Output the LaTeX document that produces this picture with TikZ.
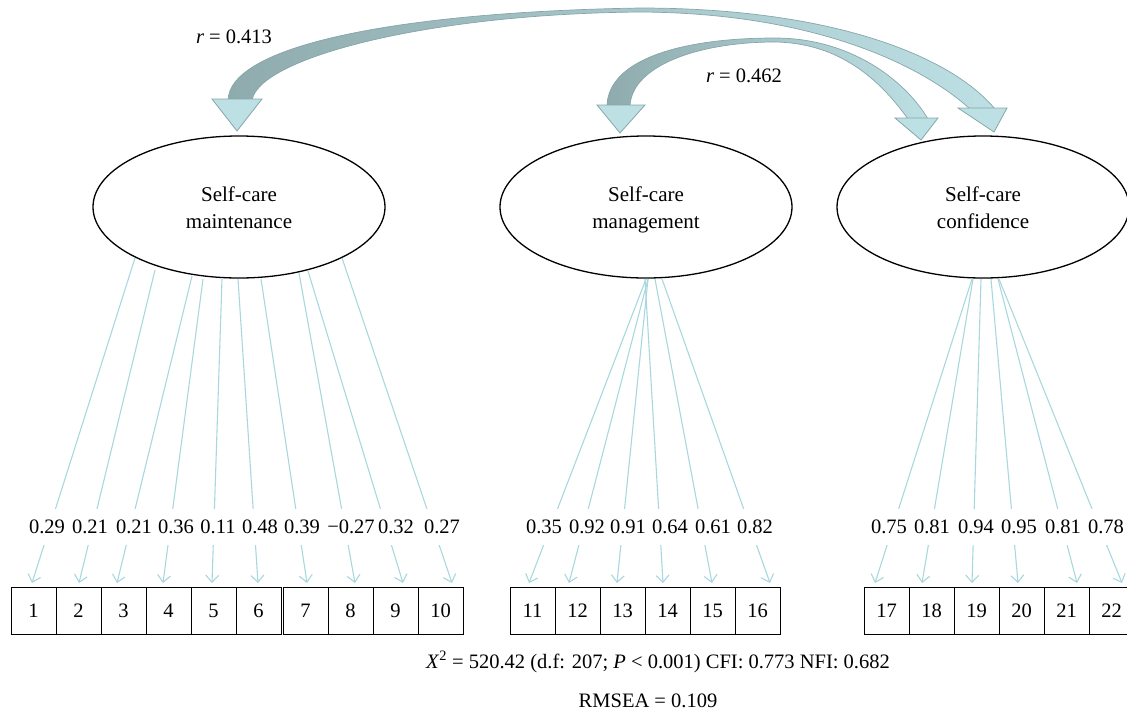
\documentclass[tikz,border=0pt]{standalone}
\usepackage{fontspec}
\setmainfont{Liberation Serif}
\usetikzlibrary{shapes.geometric,arrows.meta}
\definecolor{indc}{HTML}{A8D8DE}
\definecolor{rdark}{HTML}{8FABAE}
\definecolor{rlight}{HTML}{BDE0E4}
\definecolor{redge}{HTML}{86A6A9}
\definecolor{rhead}{HTML}{BDE0E4}
\begin{document}
\begin{tikzpicture}[x=1pt,y=-1pt,
  lat/.style={ellipse,draw,line width=1.3pt,minimum width=292pt,minimum height=142pt,inner sep=0pt},
  lattext/.style={inner sep=0pt,align=center,font=\fontsize{21}{27}\selectfont},
  item/.style={draw,line width=0.9pt,minimum width=45pt,minimum height=47pt,inner sep=0pt,font=\fontsize{20.5}{24}\selectfont},
  load/.style={fill=white,inner xsep=1pt,inner ysep=0pt,minimum height=36pt,font=\fontsize{20.5}{24}\selectfont},
  indline/.style={draw=indc,line width=1.1pt,-{Straight Barb[length=7pt,width=13pt]}},
  txt/.style={inner sep=0pt,font=\fontsize{20.5}{24}\selectfont},
  ribbon/.style={left color=rdark,right color=rlight,draw=redge,line width=0.7pt},
  headshape/.style={fill=rhead,draw=redge,line width=0.8pt,line join=miter}]
\useasboundingbox (0,0) rectangle (1127,713);

% latent variables
\node[lat] (e1) at (239,207) {};
\node[lat] (e2) at (646,207) {};
\node[lat] (e3) at (983,207) {};
\node[lattext] (e1t) at ([yshift=-3pt]e1.center) {Self-care\strut\\maintenance\strut};
\node[lattext] (e2t) at ([yshift=-3pt]e2.center) {Self-care\strut\\management\strut};
\node[lattext] (e3t) at ([yshift=-3pt]e3.center) {Self-care\strut\\confidence\strut};

% correlation ribbons
\shadedraw[ribbon] (228,101) .. controls (228,45) and (400,12) .. (640,8)
   .. controls (830,8) and (950,55) .. (995,109)
   -- (970,109) .. controls (925,68) and (820,13) .. (640,12)
   .. controls (420,14) and (256,60) .. (252,101) -- cycle;
\shadedraw[ribbon] (607,106) .. controls (608,60) and (680,38) .. (775,38)
   .. controls (850,38) and (905,80) .. (928,119)
   -- (908,119) .. controls (880,80) and (840,43) .. (775,42)
   .. controls (700,42) and (632,65) .. (630,106) -- cycle;
\filldraw[headshape] (212,99) -- (262,99) -- (237,131) -- cycle;
\filldraw[headshape] (958,108) -- (1007,108) -- (994,132) -- cycle;
\filldraw[headshape] (597,105) -- (645,105) -- (620,133) -- cycle;
\filldraw[headshape] (895,118) -- (938,118) -- (921,140) -- cycle;
\node[txt] (r1) at (234,37) {\textit{r} = 0.413};
\node[txt] (r2) at (744,76) {\textit{r} = 0.462};

% items
\foreach \i/\x in {1/33.5,2/78.5,3/123.5,4/168.5,5/213.5,6/258.5,7/305.5,8/350.5,9/395.5,10/440.5,
                   11/532.5,12/577.5,13/622.5,14/667.5,15/712.5,16/757.5,
                   17/886.5,18/931.5,19/976.5,20/1021.5,21/1066.5,22/1111.5}
  \node[item] (b\i) at (\x,610.5) {\i};

% start points on latent ellipses and arrow tips above items
\foreach \i/\sx/\sy/\tx in {1/135/258/32,2/155/270/79,3/192/276/117,4/203/279/163,5/222/279/212,
    6/238/279/258,7/261/279/307,8/299/273/355,9/308/271/403,10/342/258/452,
    11/646/279/529,12/648/279/569,13/648/279/617,14/645/279/663,15/655/279/712,16/662/279/770,
    17/972/279/875,18/973/279/922,19/981/279/972,20/991/279/1018,21/998/279/1077,22/999/279/1122}
  {\coordinate (s\i) at (\sx,\sy);
   \coordinate (t\i) at (\tx,583);
   \draw[indline] (s\i) -- (t\i);}

% loadings
\foreach \i/\x/\v in {1/47/0.29,2/90/0.21,3/134/0.21,4/176/0.36,5/218/0.11,6/260/0.48,7/302/0.39,
    8/351/−0.27,9/396/0.32,10/442/0.27,
    11/544/0.35,12/587/0.92,13/628/0.91,14/670/0.64,15/713/0.61,16/755/0.82,
    17/889/0.75,18/932/0.81,19/976/0.94,20/1019/0.95,21/1063/0.81,22/1106/0.78}
  \node[load] (l\i) at (\x,527) {\v};

% fit indices
\node[txt] (fit) at (658,662) {\textit{X}\textsuperscript{2} = 520.42 (d.f: 207; \textit{P} < 0.001) CFI: 0.773 NFI: 0.682};
\node[txt] (rmsea) at (648,701) {RMSEA = 0.109};
\end{tikzpicture}
\end{document}
